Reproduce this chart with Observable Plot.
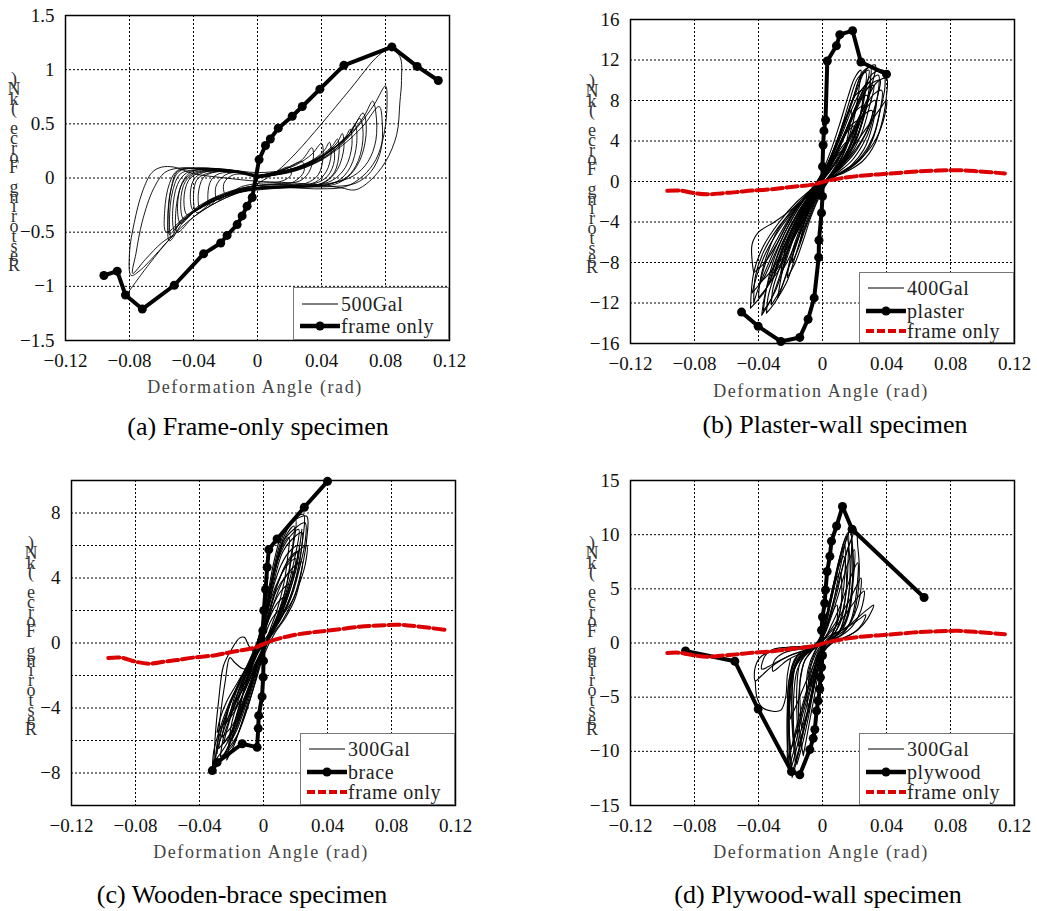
<!DOCTYPE html>
<html><head><meta charset="utf-8">
<script src="https://cdn.jsdelivr.net/npm/d3@7"></script>
<script src="https://cdn.jsdelivr.net/npm/@observablehq/plot@0.6"></script>
<style>
html,body{margin:0;padding:0;background:#fff;}
#page{position:relative;width:1037px;height:911px;overflow:hidden;background:#fff;}
.panel{position:absolute;}
.panel svg{display:block;overflow:visible;}
.xlabel{position:absolute;font-family:"Liberation Serif",serif;font-size:18px;letter-spacing:1.6px;color:#444;white-space:nowrap;transform:translate(-50%,-50%);line-height:20px;}
.caption{position:absolute;font-family:"Liberation Serif",serif;font-size:26px;color:#000;white-space:nowrap;transform:translate(-50%,-50%);line-height:30px;}
.legend{position:absolute;background:#fff;border:1.5px solid #777;box-sizing:border-box;}
.legend svg{position:absolute;left:0;top:0;}
.legend .txt{position:absolute;font-family:"Liberation Serif",serif;font-size:20px;letter-spacing:0.6px;color:#222;white-space:nowrap;line-height:18px;height:18px;}
#overlay{position:absolute;left:0;top:0;pointer-events:none;}
</style>
</head>
<body>
<div id="page"></div>
<script>
// ---------------- DATA ----------------
const xTicks = [-0.12, -0.08, -0.04, 0, 0.04, 0.08, 0.12];
const xTickLabels = ["−0.12", "−0.08", "−0.04", "0", "0.04", "0.08", "0.12"];
const xGrid = [-0.08, -0.04, 0, 0.04, 0.08];
const xLabel = "Deformation Angle (rad)";
const yLabel = "Restoring Force (kN)";

const aYTicks = [-1.5, -1, -0.5, 0, 0.5, 1, 1.5];
const aYTickLabels = ["−1.5", "−1", "−0.5", "0", "0.5", "1", "1.5"];
const aYGrid = [-1, -0.5, 0, 0.5, 1];
const bYTicks = [-16, -12, -8, -4, 0, 4, 8, 12, 16];
const bYTickLabels = ["−16", "−12", "−8", "−4", "0", "4", "8", "12", "16"];
const bYGrid = [-12, -8, -4, 0, 4, 8, 12];
const cYTicks = [-8, -4, 0, 4, 8];
const cYTickLabels = ["−8", "−4", "0", "4", "8"];
const cYGrid = [-8, -6, -4, -2, 0, 2, 4, 6, 8];
const dYTicks = [-15, -10, -5, 0, 5, 10, 15];
const dYTickLabels = ["−15", "−10", "−5", "0", "5", "10", "15"];
const dYGrid = [-10, -5, 0, 5, 10];

const captions = ["(a) Frame-only specimen", "(b) Plaster-wall specimen", "(c) Wooden-brace specimen", "(d) Plywood-wall specimen"];
const legendA = ["500Gal", "frame only"];
const legendB = ["400Gal", "plaster", "frame only"];
const legendC = ["300Gal", "brace", "frame only"];
const legendD = ["300Gal", "plywood", "frame only"];

// frame-only skeleton (red dashed in b, c, d)
const frameOnlyRed = [[-0.097,-0.92],[-0.089,-0.9],[-0.08,-1.15],[-0.072,-1.27],[-0.062,-1.15],[-0.054,-1.05],[-0.044,-0.9],[-0.03,-0.75],[-0.02,-0.55],[-0.006,-0.3],[0.004,0.1],[0.017,0.45],[0.03,0.65],[0.042,0.78],[0.06,1.0],[0.072,1.08],[0.085,1.12],[0.098,1.0],[0.114,0.8]];

// (a) frame only, 500Gal
const aBackbone = [[-0.096,-0.9],[-0.0877,-0.86],[-0.0825,-1.08],[-0.072,-1.21],[-0.052,-0.99],[-0.0337,-0.7],[-0.023,-0.6],[-0.019,-0.53],[-0.0127,-0.43],[-0.0096,-0.35],[-0.0065,-0.26],[-0.0033,-0.18],[0.001,0.17],[0.005,0.3],[0.008,0.36],[0.013,0.46],[0.0217,0.57],[0.028,0.66],[0.039,0.82],[0.054,1.04],[0.084,1.21],[0.0998,1.03],[0.113,0.9]];
const aLoops = [
 [[0,0.02],[0.01,0.05],[0.02,0.1],[0.028,0.17],[0.034,0.28],[0.035,0.2],[0.032,0.05],[0.026,-0.03],[0.015,-0.05],[0.005,-0.06],[-0.005,-0.08],[-0.015,-0.12],[-0.024,-0.18],[-0.03,-0.25],[-0.031,-0.15],[-0.029,-0.02],[-0.024,0.04],[-0.014,0.05],[-0.005,0.04],[0,0.02]],
 [[0,0.01],[0.012,0.05],[0.025,0.1],[0.036,0.18],[0.042,0.26],[0.045,0.33],[0.046,0.22],[0.043,0.06],[0.036,-0.04],[0.022,-0.07],[0.008,-0.08],[-0.006,-0.1],[-0.02,-0.15],[-0.032,-0.22],[-0.04,-0.3],[-0.042,-0.18],[-0.04,-0.02],[-0.034,0.05],[-0.02,0.07],[-0.008,0.05],[0,0.01]],
 [[0,0.0],[0.015,0.05],[0.03,0.12],[0.042,0.22],[0.05,0.33],[0.053,0.41],[0.054,0.28],[0.05,0.08],[0.042,-0.04],[0.028,-0.08],[0.01,-0.09],[-0.008,-0.12],[-0.022,-0.18],[-0.036,-0.27],[-0.046,-0.38],[-0.048,-0.22],[-0.045,-0.03],[-0.038,0.05],[-0.024,0.07],[-0.01,0.06],[0,0.0]],
 [[0,0.01],[0.016,0.05],[0.032,0.13],[0.046,0.25],[0.056,0.38],[0.061,0.49],[0.062,0.32],[0.058,0.1],[0.05,-0.03],[0.035,-0.08],[0.015,-0.09],[-0.005,-0.11],[-0.022,-0.18],[-0.038,-0.3],[-0.048,-0.4],[-0.052,-0.48],[-0.053,-0.3],[-0.05,-0.06],[-0.044,0.05],[-0.03,0.08],[-0.012,0.06],[0,0.01]],
 [[0,0.02],[0.015,0.04],[0.03,0.1],[0.045,0.22],[0.058,0.4],[0.067,0.58],[0.072,0.71],[0.074,0.6],[0.074,0.35],[0.069,0.15],[0.06,0.02],[0.045,-0.05],[0.025,-0.07],[0.005,-0.08],[-0.012,-0.11],[-0.028,-0.2],[-0.042,-0.33],[-0.05,-0.45],[-0.054,-0.55],[-0.055,-0.38],[-0.053,-0.12],[-0.048,0.04],[-0.035,0.08],[-0.018,0.07],[0,0.02]],
 [[0,0.03],[0.02,0.06],[0.035,0.14],[0.05,0.28],[0.063,0.48],[0.073,0.68],[0.08,0.85],[0.081,0.7],[0.079,0.4],[0.074,0.17],[0.066,0.02],[0.055,-0.08],[0.04,-0.1],[0.02,-0.09],[0,-0.09],[-0.015,-0.12],[-0.03,-0.22],[-0.045,-0.38],[-0.055,-0.58],[-0.056,-0.4],[-0.054,-0.1],[-0.05,0.06],[-0.038,0.09],[-0.02,0.08],[0,0.03]],
 [[0,0.0],[0.018,0.05],[0.034,0.14],[0.048,0.28],[0.058,0.42],[0.066,0.6],[0.068,0.45],[0.065,0.2],[0.058,0.03],[0.048,-0.06],[0.03,-0.08],[0.01,-0.08],[-0.008,-0.12],[-0.025,-0.22],[-0.04,-0.36],[-0.05,-0.5],[-0.051,-0.3],[-0.047,-0.05],[-0.04,0.05],[-0.025,0.07],[-0.01,0.05],[0,0.0]],
 [[0,0.02],[0.012,0.06],[0.024,0.12],[0.034,0.22],[0.04,0.32],[0.041,0.2],[0.038,0.03],[0.03,-0.05],[0.016,-0.06],[0,-0.07],[-0.012,-0.1],[-0.024,-0.16],[-0.032,-0.22],[-0.036,-0.28],[-0.037,-0.15],[-0.034,0.0],[-0.028,0.05],[-0.015,0.06],[0,0.02]],
 [[0,0.0],[0.02,0.06],[0.035,0.15],[0.047,0.27],[0.055,0.38],[0.058,0.45],[0.059,0.3],[0.055,0.1],[0.047,-0.02],[0.035,-0.07],[0.018,-0.09],[0,-0.1],[-0.015,-0.14],[-0.028,-0.22],[-0.038,-0.32],[-0.04,-0.2],[-0.038,-0.02],[-0.032,0.04],[-0.018,0.06],[0,0.0]],
 [[0,0.01],[0.014,0.05],[0.028,0.12],[0.04,0.21],[0.047,0.3],[0.05,0.36],[0.051,0.24],[0.048,0.05],[0.04,-0.05],[0.025,-0.08],[0.008,-0.1],[-0.01,-0.13],[-0.026,-0.2],[-0.04,-0.32],[-0.05,-0.44],[-0.055,-0.52],[-0.056,-0.36],[-0.054,-0.1],[-0.049,0.06],[-0.036,0.09],[-0.018,0.07],[0,0.01]],
 [[-0.081,-1.06],[-0.068,-0.8],[-0.054,-0.55],[-0.04,-0.36],[-0.025,-0.22],[-0.01,-0.12],[0.0,-0.05],[0.012,0.06],[0.024,0.23],[0.04,0.5],[0.058,0.82],[0.0756,1.13],[0.083,1.19],[0.089,1.12],[0.09,0.9],[0.089,0.7],[0.087,0.4],[0.08,0.15],[0.07,-0.03],[0.061,-0.11],[0.052,-0.09],[0.035,-0.06],[0.015,-0.04],[0,-0.03],[-0.02,0.0],[-0.04,0.04],[-0.052,0.1],[-0.06,0.1],[-0.066,0.05],[-0.072,-0.13],[-0.077,-0.41],[-0.08,-0.69],[-0.079,-0.9],[-0.074,-0.86],[-0.062,-0.68],[-0.053,-0.53]],
 [[-0.053,-0.53],[-0.06,-0.6],[-0.07,-0.75],[-0.078,-0.88],[-0.076,-0.7],[-0.072,-0.4],[-0.065,-0.1],[-0.058,0.05],[-0.05,0.09],[-0.035,0.09],[-0.02,0.08],[0,0.05],[0.02,0.08],[0.035,0.16],[0.05,0.3],[0.06,0.45]],
 [[0,0.02],[0.01,0.05],[0.02,0.1],[0.021,0.03],[0.015,-0.03],[0,-0.05],[-0.01,-0.08],[-0.02,-0.15],[-0.021,-0.05],[-0.015,0.03],[0,0.02]],
 [[0,0.0],[0.014,0.06],[0.028,0.15],[0.029,0.06],[0.022,-0.04],[0.01,-0.06],[-0.005,-0.08],[-0.016,-0.13],[-0.025,-0.2],[-0.026,-0.08],[-0.02,0.03],[-0.01,0.05],[0,0.0]],
 [[0,0.02],[0.017,0.06],[0.032,0.14],[0.046,0.26],[0.057,0.4],[0.064,0.55],[0.066,0.4],[0.063,0.16],[0.056,0.01],[0.044,-0.06],[0.026,-0.08],[0.006,-0.09],[-0.01,-0.12],[-0.026,-0.2],[-0.039,-0.3],[-0.048,-0.42],[-0.05,-0.26],[-0.047,-0.04],[-0.041,0.06],[-0.028,0.08],[-0.012,0.06],[0,0.02]],
 [[0,0.0],[0.016,0.05],[0.03,0.11],[0.04,0.18],[0.047,0.28],[0.048,0.16],[0.044,0.02],[0.036,-0.05],[0.02,-0.07],[0.004,-0.08],[-0.012,-0.12],[-0.026,-0.18],[-0.037,-0.26],[-0.044,-0.34],[-0.046,-0.2],[-0.043,-0.02],[-0.036,0.05],[-0.022,0.06],[-0.008,0.04],[0,0.0]],
 [[0,0.01],[0.02,0.05],[0.038,0.15],[0.053,0.3],[0.066,0.48],[0.076,0.66],[0.078,0.5],[0.077,0.25],[0.071,0.06],[0.061,-0.05],[0.045,-0.08],[0.025,-0.08],[0.005,-0.08],[-0.012,-0.12],[-0.028,-0.2],[-0.044,-0.34],[-0.057,-0.5],[-0.058,-0.3],[-0.055,-0.05],[-0.05,0.07],[-0.036,0.09],[-0.018,0.07],[0,0.01]]
];

// (b) plaster wall, 400Gal
const bBackbone = [[-0.0506,-12.9],[-0.0402,-14.3],[-0.026,-15.8],[-0.0142,-15.4],[-0.009,-13.6],[-0.0052,-11.5],[-0.0024,-7.5],[-0.0022,-5.8],[-0.0006,-3.1],[0,-1.47],[0,1.47],[0.0004,3.6],[0.0009,5.0],[0.0019,6.07],[0.003,11.9],[0.0087,13.4],[0.0108,14.5],[0.0188,14.9],[0.024,11.8],[0.04,10.6]];
const bLoops = [
 [[-0.045,-12.5],[-0.036,-10.8],[-0.028,-8],[-0.02,-5],[-0.012,-2.6],[-0.004,-0.8],[0.006,0.4],[0.016,1.2],[0.025,2.6],[0.032,4.6],[0.036,7],[0.039,9.3],[0.038,11],[0.031,10.6],[0.024,8.6],[0.017,6],[0.01,3.4],[0.003,1.2],[-0.006,-0.6],[-0.016,-2],[-0.027,-4],[-0.037,-6.4],[-0.043,-9],[-0.045,-12.5]],
 [[-0.04,-11.5],[-0.032,-9.8],[-0.025,-7.2],[-0.018,-4.6],[-0.01,-2.3],[-0.002,-0.6],[0.008,0.5],[0.018,1.6],[0.026,3.2],[0.031,5.4],[0.034,8],[0.035,10.5],[0.029,9.8],[0.022,7.8],[0.015,5.2],[0.008,2.8],[0.001,0.8],[-0.008,-0.9],[-0.018,-2.6],[-0.028,-4.8],[-0.035,-7.4],[-0.039,-9.8],[-0.04,-11.5]],
 [[-0.037,-12.8],[-0.03,-11],[-0.024,-8.4],[-0.018,-5.6],[-0.011,-3],[-0.004,-1],[0.005,0.6],[0.014,2],[0.021,4],[0.026,6.5],[0.029,9],[0.03,11.3],[0.025,10.8],[0.02,8.6],[0.014,6],[0.008,3.5],[0.002,1.3],[-0.006,-0.6],[-0.015,-2.6],[-0.024,-5.2],[-0.031,-8],[-0.035,-10.5],[-0.037,-12.8]],
 [[-0.033,-10],[-0.026,-8.4],[-0.02,-6],[-0.013,-3.6],[-0.006,-1.6],[0.002,0],[0.011,1.4],[0.019,3],[0.025,5],[0.029,7.2],[0.032,9.5],[0.027,9],[0.021,7.2],[0.015,5],[0.009,2.8],[0.002,0.8],[-0.006,-1],[-0.015,-3],[-0.023,-5.4],[-0.029,-7.8],[-0.033,-10]],
 [[-0.03,-9],[-0.024,-7.6],[-0.018,-5.4],[-0.012,-3.4],[-0.005,-1.4],[0.003,0.2],[0.011,1.6],[0.018,3.2],[0.023,5],[0.026,6.8],[0.028,8.5],[0.023,8],[0.018,6.2],[0.012,4.2],[0.006,2.2],[0,0.5],[-0.008,-1.4],[-0.016,-3.4],[-0.023,-5.6],[-0.027,-7.4],[-0.03,-9]],
 [[-0.027,-8],[-0.021,-6.6],[-0.015,-4.6],[-0.009,-2.7],[-0.003,-1],[0.004,0.4],[0.011,1.8],[0.017,3.4],[0.022,5.2],[0.025,6.5],[0.026,7.5],[0.021,7],[0.016,5.4],[0.011,3.6],[0.005,1.8],[-0.001,0.2],[-0.008,-1.6],[-0.015,-3.4],[-0.021,-5.4],[-0.025,-6.8],[-0.027,-8]],
 [[-0.024,-7],[-0.018,-5.6],[-0.012,-3.8],[-0.006,-2],[0.001,-0.4],[0.009,0.8],[0.018,2],[0.025,3.6],[0.03,5.4],[0.033,8],[0.028,7.4],[0.022,5.6],[0.016,3.8],[0.009,2],[0.002,0.5],[-0.005,-1],[-0.012,-2.8],[-0.019,-4.8],[-0.022,-6],[-0.024,-7]],
 [[-0.02,-6],[-0.015,-4.6],[-0.01,-3.1],[-0.005,-1.6],[0.001,-0.2],[0.008,1.1],[0.014,2.5],[0.019,4.2],[0.022,6],[0.017,5.4],[0.012,3.8],[0.007,2.2],[0.001,0.5],[-0.005,-1.1],[-0.011,-2.8],[-0.016,-4.4],[-0.02,-6]],
 [[-0.016,-5],[-0.012,-3.8],[-0.008,-2.5],[-0.003,-1],[0.003,0.3],[0.01,1.6],[0.016,3.2],[0.019,4.5],[0.02,5.5],[0.015,4.8],[0.01,3.2],[0.005,1.7],[-0.001,0.2],[-0.006,-1.2],[-0.011,-2.7],[-0.014,-3.9],[-0.016,-5]],
 [[-0.012,-4],[-0.008,-2.8],[-0.004,-1.5],[0.001,-0.2],[0.007,1],[0.012,2.3],[0.016,4],[0.012,3.4],[0.007,2],[0.002,0.6],[-0.003,-0.8],[-0.008,-2.2],[-0.012,-4]],
 [[-0.043,-9],[-0.036,-8],[-0.028,-6],[-0.02,-3.6],[-0.011,-1.6],[-0.002,-0.2],[0.01,0.8],[0.022,2],[0.032,3.8],[0.038,6],[0.04,8],[0.036,7.2],[0.028,5.4],[0.02,3.6],[0.012,1.8],[0.004,0.4],[-0.006,-1],[-0.018,-2.6],[-0.03,-4],[-0.04,-5],[-0.044,-6.2],[-0.044,-7.8],[-0.043,-9]],
 [[-0.035,-13],[-0.028,-11.5],[-0.022,-8.8],[-0.016,-6],[-0.01,-3.4],[-0.003,-1.2],[0.005,0.6],[0.012,2.4],[0.017,4.6],[0.021,7.2],[0.023,9.4],[0.024,11],[0.02,10.2],[0.016,8.4],[0.011,5.8],[0.006,3.4],[0,1],[-0.008,-1.2],[-0.016,-3.6],[-0.024,-6.4],[-0.03,-9.2],[-0.034,-11.4],[-0.035,-13]],
 [[-0.028,-11.5],[-0.022,-9.8],[-0.017,-7.4],[-0.012,-4.8],[-0.006,-2.4],[0.001,-0.4],[0.01,1.2],[0.019,2.8],[0.027,4.8],[0.032,7],[0.035,8.8],[0.036,10],[0.03,9.6],[0.024,8],[0.017,5.6],[0.01,3.2],[0.003,1],[-0.005,-1],[-0.013,-3.4],[-0.02,-6],[-0.025,-8.8],[-0.028,-11.5]],
 [[-0.022,-9.5],[-0.017,-8],[-0.012,-5.8],[-0.007,-3.4],[-0.001,-1.2],[0.006,0.6],[0.014,2.2],[0.021,4.2],[0.026,6.4],[0.029,8.4],[0.03,9.8],[0.025,9.2],[0.019,7.4],[0.013,5],[0.007,2.8],[0.001,0.8],[-0.006,-1.4],[-0.012,-3.8],[-0.018,-6.4],[-0.021,-8.2],[-0.022,-9.5]],
 [[-0.01,-3],[-0.006,-2],[-0.002,-0.9],[0.003,0.3],[0.008,1.5],[0.012,3],[0.008,2.3],[0.003,1],[-0.002,-0.4],[-0.006,-1.6],[-0.01,-3]],
 [[-0.044,-11],[-0.037,-9.6],[-0.03,-7.2],[-0.022,-4.6],[-0.014,-2.4],[-0.006,-0.8],[0.004,0.3],[0.014,1],[0.024,2.2],[0.031,4],[0.035,6.2],[0.037,9],[0.032,8.6],[0.025,7],[0.018,4.8],[0.011,2.6],[0.004,0.9],[-0.005,-0.7],[-0.015,-2.3],[-0.025,-4.3],[-0.034,-6.6],[-0.04,-8.8],[-0.044,-11]],
 [[-0.039,-10],[-0.031,-8.6],[-0.024,-6.4],[-0.017,-4],[-0.009,-1.8],[-0.001,-0.3],[0.008,1],[0.015,2.6],[0.021,5],[0.025,7.6],[0.027,10.8],[0.022,10.2],[0.017,8],[0.012,5.4],[0.006,2.8],[0,0.8],[-0.009,-1.2],[-0.019,-3.2],[-0.028,-5.6],[-0.035,-7.8],[-0.039,-10]],
 [[-0.032,-12.2],[-0.026,-10.6],[-0.02,-8],[-0.014,-5.2],[-0.008,-2.8],[-0.001,-0.8],[0.007,0.8],[0.015,2.4],[0.022,4.6],[0.027,7.2],[0.031,9.6],[0.033,11.5],[0.027,11],[0.021,8.8],[0.015,6.2],[0.009,3.6],[0.003,1.3],[-0.004,-0.6],[-0.012,-2.8],[-0.02,-5.6],[-0.027,-8.6],[-0.031,-10.6],[-0.032,-12.2]],
 [[-0.026,-9],[-0.021,-7.6],[-0.015,-5.4],[-0.009,-3.2],[-0.003,-1.2],[0.004,0.3],[0.012,1.4],[0.02,2.8],[0.026,4.4],[0.03,5.8],[0.031,7],[0.026,6.6],[0.02,5.2],[0.014,3.6],[0.008,2],[0.002,0.6],[-0.005,-1],[-0.012,-3],[-0.019,-5.2],[-0.024,-7.2],[-0.026,-9]],
 [[-0.019,-8],[-0.015,-6.6],[-0.011,-4.8],[-0.006,-2.8],[-0.001,-1],[0.006,0.5],[0.013,1.8],[0.019,3.6],[0.023,6],[0.025,9],[0.02,8.4],[0.015,6.4],[0.01,4.2],[0.005,2.2],[0,0.5],[-0.006,-1.4],[-0.011,-3.4],[-0.015,-5.4],[-0.018,-6.8],[-0.019,-8]],
 [[-0.043,-12],[-0.04,-10.5],[-0.034,-8.2],[-0.026,-5.4],[-0.017,-2.9],[-0.008,-1],[0.003,0.2],[0.014,0.9],[0.025,2],[0.033,3.8],[0.038,6.4],[0.04,8.5],[0.04,10.2],[0.034,9.8],[0.027,7.8],[0.02,5.2],[0.012,2.8],[0.004,0.9],[-0.006,-0.9],[-0.017,-2.6],[-0.028,-4.6],[-0.037,-7],[-0.042,-9.4],[-0.043,-12]],
 [[-0.038,-13.2],[-0.032,-11.6],[-0.026,-9],[-0.02,-6.2],[-0.013,-3.4],[-0.005,-1.2],[0.004,0.5],[0.012,2],[0.019,4],[0.024,6.6],[0.027,9],[0.029,11],[0.024,10.4],[0.019,8.2],[0.013,5.6],[0.007,3.2],[0.001,1],[-0.007,-1],[-0.016,-3.2],[-0.025,-6],[-0.032,-9],[-0.036,-11.2],[-0.038,-13.2]],
 [[-0.014,-6],[-0.011,-4.6],[-0.007,-3],[-0.003,-1.4],[0.002,0],[0.008,1.3],[0.013,2.8],[0.016,4.6],[0.018,7],[0.014,6.2],[0.01,4.4],[0.005,2.4],[0,0.7],[-0.005,-1.1],[-0.009,-2.9],[-0.012,-4.5],[-0.014,-6]]
];

// (c) wooden brace, 300Gal
const cBackbone = [[-0.032,-7.85],[-0.029,-7.35],[-0.0133,-6.2],[-0.004,-6.42],[-0.0033,-5.25],[-0.003,-4.47],[-0.0009,-3.3],[-0.0002,-2.1],[0,-1.1],[-0.0004,0.76],[0.0002,2.0],[0.0013,3.3],[0.0023,4.66],[0.0033,5.75],[0.0085,6.4],[0.0255,8.35],[0.04,9.95]];
const cLoops = [
 [[-0.032,-7.8],[-0.024,-6.8],[-0.016,-5],[-0.009,-3],[-0.003,-1.2],[0.004,0.3],[0.012,1.4],[0.019,2.8],[0.024,4.6],[0.027,6.4],[0.027,7.8],[0.02,7.6],[0.012,6.8],[0.007,5.2],[0.003,3.2],[-0.001,1.2],[-0.006,-0.6],[-0.013,-2],[-0.021,-3.6],[-0.027,-5.2],[-0.031,-6.6],[-0.032,-7.8]],
 [[-0.03,-7.2],[-0.023,-6.2],[-0.016,-4.6],[-0.009,-2.8],[-0.003,-1],[0.004,0.4],[0.011,1.5],[0.018,3],[0.023,4.8],[0.026,6.2],[0.026,7.4],[0.019,7],[0.012,6.2],[0.007,4.6],[0.003,2.8],[-0.001,1],[-0.007,-0.8],[-0.014,-2.2],[-0.021,-3.8],[-0.026,-5.2],[-0.029,-6.2],[-0.03,-7.2]],
 [[-0.028,-6.5],[-0.021,-5.6],[-0.014,-4],[-0.008,-2.4],[-0.002,-0.8],[0.005,0.6],[0.012,1.8],[0.018,3.2],[0.022,4.8],[0.024,6.8],[0.018,6.4],[0.012,5.6],[0.007,4],[0.003,2.2],[-0.002,0.6],[-0.008,-1],[-0.015,-2.4],[-0.021,-3.8],[-0.026,-5.2],[-0.028,-6.5]],
 [[-0.026,-5.8],[-0.019,-5],[-0.013,-3.6],[-0.007,-2.1],[-0.001,-0.6],[0.006,0.8],[0.012,2],[0.017,3.4],[0.021,4.8],[0.022,6],[0.016,5.6],[0.011,4.8],[0.006,3.4],[0.002,1.8],[-0.003,0.3],[-0.009,-1.1],[-0.016,-2.6],[-0.022,-4],[-0.026,-5.8]],
 [[-0.024,-5],[-0.018,-4.2],[-0.012,-3],[-0.006,-1.7],[0,-0.4],[0.006,0.9],[0.012,2.1],[0.016,3.4],[0.019,4.4],[0.02,5.2],[0.015,4.8],[0.01,4],[0.005,2.8],[0.001,1.3],[-0.004,-0.1],[-0.01,-1.4],[-0.016,-2.6],[-0.021,-3.8],[-0.024,-5]],
 [[-0.021,-4.4],[-0.015,-3.6],[-0.01,-2.5],[-0.005,-1.4],[0.001,-0.2],[0.007,1],[0.012,2.2],[0.016,3.4],[0.018,4.4],[0.013,4],[0.008,3.2],[0.004,2],[0,0.8],[-0.005,-0.6],[-0.011,-1.8],[-0.017,-3],[-0.021,-4.4]],
 [[-0.018,-3.6],[-0.013,-2.9],[-0.008,-2],[-0.003,-1],[0.002,0.1],[0.008,1.2],[0.013,2.4],[0.016,3.6],[0.011,3.2],[0.006,2.3],[0.002,1.1],[-0.003,-0.2],[-0.009,-1.4],[-0.014,-2.5],[-0.018,-3.6]],
 [[-0.014,-2.8],[-0.01,-2.2],[-0.005,-1.3],[0,-0.3],[0.005,0.7],[0.01,1.8],[0.013,2.8],[0.009,2.5],[0.004,1.6],[0,0.5],[-0.005,-0.7],[-0.01,-1.8],[-0.014,-2.8]],
 [[-0.01,-2],[-0.006,-1.4],[-0.002,-0.6],[0.003,0.4],[0.007,1.2],[0.01,2],[0.006,1.6],[0.002,0.8],[-0.002,-0.2],[-0.006,-1],[-0.01,-2]],
 [[-0.027,-7],[-0.02,-6.4],[-0.013,-4.8],[-0.007,-3],[-0.002,-1.2],[0.004,0.4],[0.01,2],[0.015,3.8],[0.018,5.6],[0.02,7.6],[0.015,7.2],[0.01,6],[0.006,4.4],[0.002,2.4],[-0.002,0.6],[-0.008,-1.2],[-0.015,-2.8],[-0.021,-4.6],[-0.025,-5.8],[-0.027,-7]],
 [[-0.022,-6.5],[-0.016,-5.6],[-0.01,-4],[-0.005,-2.4],[0,-0.8],[0.007,0.6],[0.014,1.6],[0.02,2.8],[0.023,4],[0.024,5],[0.018,4.6],[0.012,3.8],[0.007,2.6],[0.002,1.2],[-0.004,-0.4],[-0.01,-2],[-0.016,-3.6],[-0.02,-5],[-0.022,-6.5]],
 [[-0.031,-7.4],[-0.03,-5.5],[-0.028,-3.5],[-0.025,-1.4],[-0.02,-0.4],[-0.015,0.3],[-0.012,0.35],[-0.009,-0.2],[-0.005,-0.6],[0,-0.2],[0.006,1],[0.012,2.4],[0.018,4],[0.022,5.6],[0.024,7]],
 [[-0.029,-6.8],[-0.027,-4.5],[-0.024,-2.4],[-0.021,-0.9],[-0.018,-1.2],[-0.012,-1.6],[-0.006,-1],[0,0]],
 [[-0.031,-7.6],[-0.025,-6.9],[-0.018,-5.4],[-0.011,-3.4],[-0.005,-1.5],[0.002,0],[0.009,1.2],[0.016,2.6],[0.021,4.2],[0.024,6],[0.025,7.9],[0.019,7.6],[0.013,6.6],[0.008,5],[0.004,3],[0,1],[-0.005,-0.8],[-0.012,-2.2],[-0.019,-3.8],[-0.025,-5.4],[-0.029,-6.6],[-0.031,-7.6]],
 [[-0.025,-6.2],[-0.019,-5.4],[-0.013,-4],[-0.007,-2.4],[-0.002,-0.8],[0.004,0.6],[0.01,1.9],[0.015,3.4],[0.019,5],[0.022,7],[0.017,6.6],[0.011,5.6],[0.006,4],[0.002,2],[-0.002,0.4],[-0.008,-1.2],[-0.014,-2.8],[-0.02,-4.4],[-0.023,-5.4],[-0.025,-6.2]],
 [[-0.029,-5.5],[-0.022,-4.6],[-0.015,-3.2],[-0.009,-1.8],[-0.003,-0.5],[0.004,0.7],[0.011,1.6],[0.018,2.6],[0.023,3.8],[0.026,4.8],[0.027,6],[0.021,5.6],[0.014,4.8],[0.008,3.4],[0.003,1.8],[-0.002,0.2],[-0.009,-1.2],[-0.016,-2.4],[-0.023,-3.6],[-0.027,-4.6],[-0.029,-5.5]],
 [[-0.02,-6],[-0.016,-5.2],[-0.011,-3.8],[-0.006,-2.2],[-0.001,-0.6],[0.004,0.8],[0.009,2.2],[0.013,3.8],[0.015,5.2],[0.016,6.5],[0.012,6],[0.008,4.8],[0.004,3.2],[0.001,1.6],[-0.003,0],[-0.008,-1.6],[-0.013,-3.2],[-0.017,-4.6],[-0.02,-6]],
 [[-0.023,-7.2],[-0.018,-6.2],[-0.012,-4.4],[-0.006,-2.4],[0,-0.6],[0.006,0.8],[0.012,2],[0.017,3.4],[0.02,4.6],[0.021,5.6],[0.016,5.2],[0.011,4.2],[0.006,2.8],[0.002,1.2],[-0.003,-0.4],[-0.009,-2],[-0.015,-3.8],[-0.02,-5.6],[-0.023,-7.2]],
 [[-0.016,-4.8],[-0.012,-3.8],[-0.007,-2.4],[-0.002,-0.9],[0.003,0.4],[0.009,1.8],[0.014,3.4],[0.017,5.2],[0.019,7.2],[0.014,6.6],[0.009,5.2],[0.005,3.4],[0.001,1.6],[-0.003,0],[-0.008,-1.6],[-0.013,-3.2],[-0.016,-4.8]]
];

// (d) plywood wall, 300Gal
const dBackbone = [[-0.0856,-0.74],[-0.0548,-1.68],[-0.0402,-6.1],[-0.0194,-11.86],[-0.0142,-12.17],[-0.0079,-9.84],[-0.0058,-8.8],[-0.0048,-7.98],[-0.0037,-6.27],[-0.0027,-5.34],[-0.0017,-4.25],[-0.0013,-3.17],[-0.0006,-2.24],[0,-1.15],[-0.0006,1.18],[0,2.4],[0.0014,3.67],[0.0019,4.9],[0.0029,6.6],[0.0046,8.0],[0.0056,9.4],[0.0088,10.8],[0.0125,12.6],[0.0185,10.5],[0.0635,4.2]];
const dLoops = [
 [[-0.019,-12],[-0.016,-10.5],[-0.012,-8],[-0.008,-5.5],[-0.005,-3],[-0.002,-1],[0.002,0],[0.008,0.6],[0.013,1.6],[0.017,3.5],[0.019,6],[0.019,8.5],[0.017,10.4],[0.014,9.2],[0.011,7.6],[0.008,5.6],[0.005,3.6],[0.002,1.6],[-0.002,0.2],[-0.008,-0.5],[-0.015,-1],[-0.019,-2.5],[-0.021,-5],[-0.021,-8],[-0.02,-10.5],[-0.019,-12]],
 [[-0.017,-11],[-0.014,-9.5],[-0.01,-7],[-0.006,-4.6],[-0.003,-2.4],[0,-0.6],[0.005,0.3],[0.011,1.2],[0.015,3],[0.017,5.5],[0.017,8],[0.015,9.8],[0.012,8.6],[0.009,6.8],[0.006,4.8],[0.003,2.8],[0,1],[-0.005,-0.2],[-0.012,-0.8],[-0.017,-2],[-0.019,-4.5],[-0.019,-7.5],[-0.018,-9.5],[-0.017,-11]],
 [[-0.021,-11.5],[-0.018,-10],[-0.014,-7.5],[-0.009,-4.8],[-0.005,-2.4],[-0.001,-0.6],[0.005,0.2],[0.012,0.8],[0.018,2],[0.022,4.4],[0.023,7],[0.022,9],[0.021,10.5],[0.018,9.6],[0.014,7.8],[0.01,5.6],[0.006,3.4],[0.002,1.4],[-0.003,0],[-0.01,-0.7],[-0.017,-1.4],[-0.021,-3.5],[-0.022,-6.5],[-0.022,-9],[-0.021,-11.5]],
 [[-0.015,-9.5],[-0.012,-8],[-0.008,-5.8],[-0.005,-3.8],[-0.002,-1.8],[0.001,-0.3],[0.006,0.6],[0.011,1.8],[0.014,3.8],[0.015,6],[0.013,8],[0.01,7],[0.007,5.4],[0.004,3.6],[0.001,1.6],[-0.003,0],[-0.009,-0.8],[-0.014,-1.8],[-0.016,-4],[-0.016,-6.5],[-0.015,-9.5]],
 [[-0.013,-8],[-0.01,-6.6],[-0.007,-4.8],[-0.004,-3],[-0.001,-1.4],[0.002,-0.2],[0.006,0.8],[0.01,2.2],[0.012,4.2],[0.011,6.5],[0.008,5.6],[0.005,4],[0.002,2.2],[-0.001,0.6],[-0.006,-0.6],[-0.011,-1.6],[-0.014,-3.4],[-0.014,-5.6],[-0.013,-8]],
 [[-0.02,-10],[-0.017,-8.6],[-0.013,-6.4],[-0.009,-4.2],[-0.005,-2.2],[-0.001,-0.6],[0.006,0.4],[0.014,1.2],[0.02,2.6],[0.0235,4.4],[0.024,6],[0.021,5.2],[0.017,4],[0.012,2.8],[0.007,1.6],[0.002,0.6],[-0.004,-0.4],[-0.012,-1.2],[-0.018,-2.6],[-0.02,-5],[-0.021,-7.5],[-0.02,-10]],
 [[-0.009,-6],[-0.006,-4.4],[-0.003,-2.6],[0,-1],[0.006,0],[0.014,0.5],[0.022,1.2],[0.028,2.2],[0.032,3.5],[0.029,3.2],[0.024,2.6],[0.018,1.8],[0.012,1.2],[0.006,0.8],[0,0.2],[-0.005,-0.8],[-0.009,-2.4],[-0.01,-4],[-0.009,-6]],
 [[-0.007,-4],[-0.004,-2.6],[-0.001,-1.2],[0.004,-0.2],[0.012,0.4],[0.02,1],[0.025,1.8],[0.027,2.6],[0.023,2.2],[0.017,1.6],[0.01,1],[0.004,0.5],[-0.002,-0.4],[-0.006,-1.6],[-0.008,-2.8],[-0.007,-4]],
 [[-0.005,-0.3],[-0.012,-0.4],[-0.02,-0.5],[-0.03,-0.7],[-0.038,-1.2],[-0.042,-2.2],[-0.042,-3.5],[-0.038,-3],[-0.032,-2.2],[-0.026,-1.6],[-0.018,-1],[-0.01,-0.6],[-0.003,-0.2]],
 [[-0.004,-0.2],[-0.012,-0.3],[-0.022,-0.4],[-0.031,-0.6],[-0.036,-1.2],[-0.038,-2.4],[-0.034,-2.2],[-0.028,-1.7],[-0.021,-1.2],[-0.013,-0.8],[-0.005,-0.4]],
 [[-0.006,-0.5],[-0.016,-0.6],[-0.024,-0.9],[-0.03,-1.6],[-0.031,-2.6],[-0.027,-2.2],[-0.022,-1.6],[-0.014,-1],[-0.006,-0.6]],
 [[-0.042,-3.5],[-0.041,-5],[-0.038,-5.9],[-0.031,-6.3],[-0.026,-6.2],[-0.023,-5],[-0.022,-3],[-0.02,-1.5]],
 [[-0.02,-11.8],[-0.017,-10.2],[-0.013,-7.8],[-0.009,-5.2],[-0.005,-2.8],[-0.002,-0.9],[0.003,0],[0.009,0.8],[0.015,2.2],[0.018,4.6],[0.019,7.2],[0.018,9.4],[0.015,8.4],[0.012,6.6],[0.009,4.6],[0.005,2.6],[0.001,1],[-0.004,-0.2],[-0.011,-0.9],[-0.016,-1.8],[-0.02,-4],[-0.021,-7],[-0.021,-9.5],[-0.02,-11.8]],
 [[-0.008,-4],[-0.005,-2.6],[-0.002,-1.2],[0.002,0],[0.006,0.8],[0.009,2],[0.009,3.5],[0.006,2.8],[0.003,1.6],[0,0.4],[-0.004,-0.6],[-0.007,-1.8],[-0.009,-3],[-0.008,-4]],
 [[-0.022,-10.8],[-0.019,-9.4],[-0.015,-7],[-0.01,-4.4],[-0.006,-2.2],[-0.002,-0.6],[0.003,0.2],[0.008,1],[0.012,2.6],[0.015,5],[0.016,7.6],[0.016,10.2],[0.013,9.2],[0.01,7.2],[0.007,5],[0.004,3],[0.001,1.2],[-0.004,-0.2],[-0.01,-0.8],[-0.017,-1.6],[-0.021,-3.6],[-0.022,-6.6],[-0.022,-8.8],[-0.022,-10.8]],
 [[-0.018,-9],[-0.015,-7.6],[-0.011,-5.4],[-0.007,-3.2],[-0.003,-1.4],[0.001,-0.2],[0.007,0.5],[0.013,1.4],[0.017,3],[0.019,5.4],[0.02,8.6],[0.017,7.8],[0.013,6],[0.009,4],[0.005,2.2],[0.001,0.7],[-0.005,-0.4],[-0.012,-1],[-0.017,-2.2],[-0.019,-4.4],[-0.019,-6.8],[-0.018,-9]],
 [[-0.016,-11.2],[-0.013,-9.6],[-0.009,-7],[-0.006,-4.6],[-0.003,-2.4],[0,-0.8],[0.006,0.2],[0.013,0.9],[0.018,2.2],[0.021,4.4],[0.022,7.4],[0.019,6.6],[0.015,5],[0.011,3.4],[0.006,1.8],[0.002,0.6],[-0.004,-0.4],[-0.011,-1.2],[-0.016,-2.6],[-0.018,-5],[-0.018,-8],[-0.016,-11.2]],
 [[-0.02,-7],[-0.016,-5.6],[-0.011,-3.8],[-0.006,-2.2],[-0.002,-0.8],[0.004,0.1],[0.012,0.7],[0.019,1.6],[0.024,3],[0.026,4.8],[0.022,4.2],[0.017,3.2],[0.011,2],[0.005,1],[0,0.2],[-0.007,-0.6],[-0.014,-1.4],[-0.019,-2.8],[-0.021,-4.8],[-0.02,-7]],
 [[-0.012,-10.4],[-0.01,-8.8],[-0.007,-6.4],[-0.004,-4],[-0.002,-2],[0.001,-0.4],[0.005,0.6],[0.009,1.8],[0.012,3.8],[0.014,6.4],[0.014,9],[0.011,8],[0.008,6.2],[0.005,4.2],[0.002,2.2],[-0.001,0.6],[-0.006,-0.6],[-0.011,-1.6],[-0.014,-3.6],[-0.015,-6.4],[-0.014,-8.6],[-0.012,-10.4]],
 [[-0.019,-12.4],[-0.016,-10.8],[-0.012,-8.2],[-0.008,-5.4],[-0.004,-2.8],[-0.001,-0.8],[0.004,0.1],[0.01,0.9],[0.014,2.6],[0.017,5.2],[0.018,8],[0.018,10.6],[0.015,9.6],[0.012,7.6],[0.009,5.4],[0.006,3.2],[0.002,1.2],[-0.003,-0.1],[-0.01,-0.8],[-0.016,-1.6],[-0.02,-3.8],[-0.021,-7],[-0.02,-10],[-0.019,-12.4]]
];

// ---------------- DRAWING ----------------
const page = document.getElementById("page");
const NS = "http://www.w3.org/2000/svg";

function rows(arr) { return arr.map(([x, y]) => ({x, y})); }
function loopRows(loops) { return loops.flatMap((L, i) => L.map(([x, y]) => ({x, y, loop: i}))); }

function makePanel(cfg) {
  const marks = [
    Plot.gridX(xGrid, {stroke: "#000", strokeOpacity: 1, strokeWidth: 1, strokeDasharray: "2,2"}),
    Plot.gridY(cfg.yGrid, {stroke: "#000", strokeOpacity: 1, strokeWidth: 1, strokeDasharray: "2,2"}),
    Plot.line(loopRows(cfg.loops), {x: "x", y: "y", z: "loop", stroke: "#000", strokeWidth: cfg.thin, curve: "catmull-rom", clip: true}),
    Plot.line(rows(cfg.backbone), {x: "x", y: "y", stroke: "#000", strokeWidth: 4, strokeLinejoin: "round", clip: true}),
    Plot.dot(rows(cfg.backbone), {x: "x", y: "y", r: 4.5, fill: "#000", stroke: null})
  ];
  if (cfg.red) marks.push(Plot.line(rows(frameOnlyRed), {x: "x", y: "y", stroke: "#dd0000", strokeWidth: 4, strokeDasharray: "11,4", curve: "catmull-rom"}));
  marks.push(Plot.frame({stroke: "#000", strokeWidth: 1.5}));
  marks.push(Plot.axisX(xTicks, {tickSize: 0, tickPadding: 13, label: null, tickFormat: d => xTickLabels[xTicks.indexOf(d)]}));
  marks.push(Plot.axisY(cfg.yTicks, {tickSize: 0, tickPadding: 11, label: null, tickFormat: d => cfg.yTickLabels[cfg.yTicks.indexOf(d)]}));
  const svg = Plot.plot({
    width: cfg.width, height: 400,
    marginLeft: cfg.ml, marginRight: cfg.mr, marginTop: cfg.mt, marginBottom: 400 - cfg.fb,
    x: {domain: [-0.12, 0.12]},
    y: {domain: cfg.yDomain},
    style: {fontFamily: "'Liberation Serif', serif", fontSize: "19px", color: "#111", background: "transparent", overflow: "visible"},
    marks
  });
  const wrap = document.createElement("div");
  wrap.className = "panel";
  wrap.style.left = cfg.left + "px";
  wrap.style.top = cfg.top + "px";
  wrap.appendChild(svg);
  page.appendChild(wrap);
}

function addText(cls, text, cx, cy) {
  const d = document.createElement("div");
  d.className = cls; d.textContent = text;
  d.style.left = cx + "px"; d.style.top = cy + "px";
  page.appendChild(d);
}

function addLegend(left, top, w, h, labels, rowYs) {
  const box = document.createElement("div");
  box.className = "legend";
  box.style.left = left + "px"; box.style.top = top + "px";
  box.style.width = w + "px"; box.style.height = h + "px";
  const svg = document.createElementNS(NS, "svg");
  svg.setAttribute("width", w); svg.setAttribute("height", h);
  const kinds = ["thin", "thick", "red"];
  labels.forEach((lab, i) => {
    const y = rowYs[i];
    const kind = kinds[i];
    const line = document.createElementNS(NS, "line");
    line.setAttribute("y1", y); line.setAttribute("y2", y);
    if (kind === "thin") {
      line.setAttribute("x1", 8); line.setAttribute("x2", 44);
      line.setAttribute("stroke", "#000"); line.setAttribute("stroke-width", 1);
    } else if (kind === "thick") {
      line.setAttribute("x1", 6); line.setAttribute("x2", 46);
      line.setAttribute("stroke", "#000"); line.setAttribute("stroke-width", 4.5);
    } else {
      line.setAttribute("x1", 6); line.setAttribute("x2", 46);
      line.setAttribute("stroke", "#dd0000"); line.setAttribute("stroke-width", 4);
      line.setAttribute("stroke-dasharray", "8,3");
    }
    svg.appendChild(line);
    if (kind === "thick") {
      const c = document.createElementNS(NS, "circle");
      c.setAttribute("cx", 26); c.setAttribute("cy", y); c.setAttribute("r", 4.5); c.setAttribute("fill", "#000");
      svg.appendChild(c);
    }
    const t = document.createElement("div");
    t.className = "txt"; t.textContent = lab;
    t.style.left = "47px"; t.style.top = (y - 9) + "px";
    box.appendChild(t);
  });
  box.insertBefore(svg, box.firstChild);
  page.appendChild(box);
}

// (a)
makePanel({left: 0, top: 0, width: 520, ml: 65, mr: 71, mt: 15, fb: 340, yDomain: [-1.5, 1.5], yTicks: aYTicks, yTickLabels: aYTickLabels, yGrid: aYGrid, loops: aLoops, backbone: aBackbone, red: false, thin: 0.9});
// (b)
makePanel({left: 520, top: 0, width: 517, ml: 110, mr: 23, mt: 19, fb: 343, yDomain: [-16, 16], yTicks: bYTicks, yTickLabels: bYTickLabels, yGrid: bYGrid, loops: bLoops, backbone: bBackbone, red: true, thin: 1.1});
// (c)
makePanel({left: 0, top: 460, width: 520, ml: 71, mr: 65, mt: 20, fb: 345, yDomain: [-10, 10], yTicks: cYTicks, yTickLabels: cYTickLabels, yGrid: cYGrid, loops: cLoops, backbone: cBackbone, red: true, thin: 1.1});
// (d)
makePanel({left: 520, top: 460, width: 517, ml: 110, mr: 23, mt: 20, fb: 345, yDomain: [-15, 15], yTicks: dYTicks, yTickLabels: dYTickLabels, yGrid: dYGrid, loops: dLoops, backbone: dBackbone, red: true, thin: 1.1});

addLegend(293, 287, 156, 53, legendA, [16, 38]);
addLegend(859, 272, 155, 71, legendB, [15, 38, 58]);
addLegend(300, 733, 155, 72, legendC, [15, 38, 58]);
addLegend(859, 733, 155, 72, legendD, [15, 38, 58]);

addText("xlabel", xLabel, 255, 387);
addText("xlabel", xLabel, 821, 391);
addText("xlabel", xLabel, 261, 852);
addText("xlabel", xLabel, 821, 852);

addText("caption", captions[0], 258, 427);
addText("caption", captions[1], 835, 425);
addText("caption", captions[2], 242, 895);
addText("caption", captions[3], 818, 895);

// stacked vertical y-axis labels: one text element each, characters stacked bottom-to-top
const overlay = document.createElementNS(NS, "svg");
overlay.setAttribute("id", "overlay");
overlay.setAttribute("width", 1037); overlay.setAttribute("height", 911);
function addYLabel(cx, bottomCy) {
  const chars = [...yLabel];
  const t = document.createElementNS(NS, "text");
  t.setAttribute("x", chars.map(() => cx).join(" "));
  t.setAttribute("y", chars.map((c, i) => (bottomCy - i * 9.8).toFixed(1)).join(" "));
  t.setAttribute("text-anchor", "middle");
  t.setAttribute("dominant-baseline", "central");
  t.setAttribute("font-family", "'Liberation Serif', serif");
  t.setAttribute("font-size", 18);
  t.setAttribute("fill", "#333");
  t.textContent = yLabel;
  overlay.appendChild(t);
}
addYLabel(14, 79 + 19 * 9.8);
addYLabel(592, 81 + 19 * 9.8);
addYLabel(31, 543 + 19 * 9.8);
addYLabel(592, 543 + 19 * 9.8);
page.appendChild(overlay);
</script>
</body></html>
